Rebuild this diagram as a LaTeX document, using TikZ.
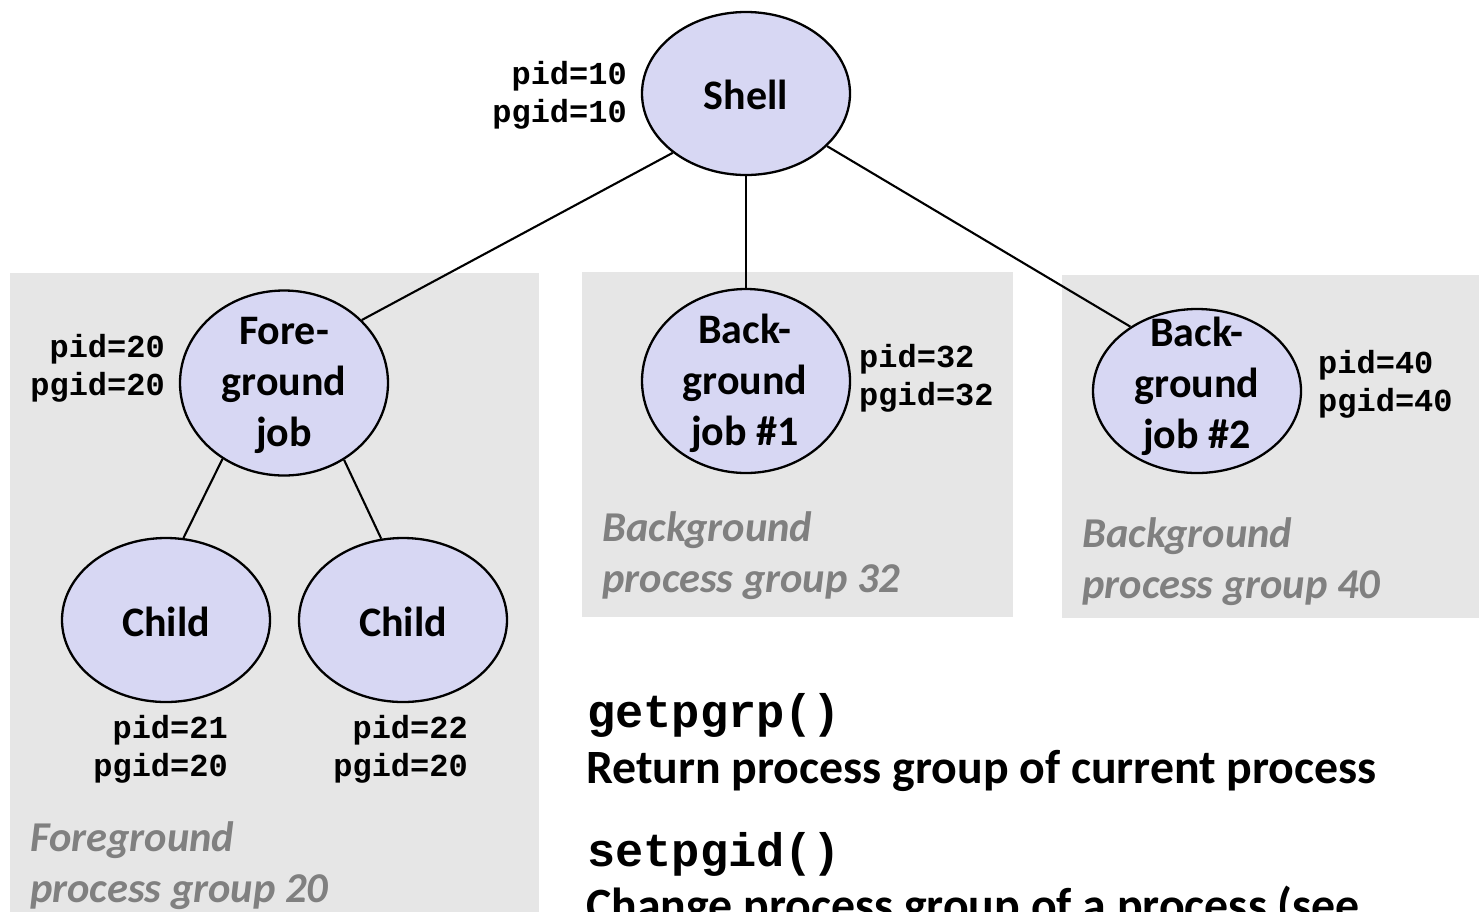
\documentclass[tikz,border=0pt]{standalone}
\usepackage{fontspec}
\setmainfont{Carlito}
\newfontfamily\monof{Liberation Mono}
\usetikzlibrary{shapes.geometric}
\definecolor{procfill}{RGB}{215,215,243}
\definecolor{groupbg}{RGB}{230,230,230}
\definecolor{grouptext}{RGB}{128,128,128}
\begin{document}
\begin{tikzpicture}[x=1pt,y=-1pt,
  proc/.style={ellipse, draw=black, line width=2.3pt, fill=procfill, inner sep=0pt, minimum width=208pt},
  ptext/.style={font=\fontsize{42}{51}\selectfont\bfseries, align=center, inner sep=0pt},
  idr/.style={font=\fontsize{32}{38}\selectfont\monof\bfseries, inner sep=0pt, align=right, anchor=east},
  idlft/.style={font=\fontsize{32}{38}\selectfont\monof\bfseries, inner sep=0pt, align=left, anchor=west},
  grp/.style={fill=groupbg, draw=none},
  gtext/.style={font=\fontsize{42.5}{51}\selectfont\bfseries\itshape, text=grouptext, align=left, inner sep=0pt, anchor=west},
  edge/.style={draw=black, line width=2.1pt},
  api/.style={font=\fontsize{47}{56}\selectfont\monof\bfseries, inner sep=0pt, anchor=base west},
  desc/.style={font=\fontsize{47.8}{56}\selectfont\bfseries, inner sep=0pt, anchor=base west}]
\useasboundingbox (0,0) rectangle (1479,911);
\fill[white] (0,0) rectangle (1479,911);

% group backgrounds
\fill[grp] (10,273) rectangle (539,940);
\fill[grp] (582,272) rectangle (1013,617);
\fill[grp] (1062,275) rectangle (1479,618);

% process ellipses
\node[proc, minimum height=163pt] (shell) at (746,93.5) {};
\node[proc, minimum height=185pt] (fg) at (284,383) {};
\node[proc, minimum height=184pt] (bg1) at (746,381) {};
\node[proc, minimum height=164pt] (bg2) at (1197,391) {};
\node[proc, minimum height=164pt] (c1) at (166,620) {};
\node[proc, minimum height=164pt] (c2) at (403,620) {};

% ellipse texts
\node[ptext] (shellt) at (746,95) {Shell};
\node[ptext] (fgt) at (284,385) {Fore-\\ground\\job};
\node[ptext] (bg1t) at (745,383) {Back-\\ground\\job \#1};
\node[ptext] (bg2t) at (1197,386) {Back-\\ground\\job \#2};
\node[ptext] (c1t) at (166,622) {Child};
\node[ptext] (c2t) at (403,622) {Child};

% connectors
\draw[edge] (shell.219) -- (fg.39);
\draw[edge] (shell.south) -- (bg1.north);
\draw[edge] (shell.327) -- (bg2.136);
\draw[edge] (fg.231) -- (c1.78);
\draw[edge] (fg.308) -- (c2.105);

% id labels
\node[idr] (shellid) at (627,95) {pid=10\\pgid=10};
\node[idr] (fgid) at (165,368) {pid=20\\pgid=20};
\node[idlft] (bg1id) at (859,378) {pid=32\\pgid=32};
\node[idlft] (bg2id) at (1318,384) {pid=40\\pgid=40};
\node[idr] (c1id) at (228,749) {pid=21\\pgid=20};
\node[idr] (c2id) at (468,749) {pid=22\\pgid=20};

% group captions
\node[gtext] (fgcap) at (30,866) {Foreground\\process group 20};
\node[gtext] (bg1cap) at (602,556) {Background\\process group 32};
\node[gtext] (bg2cap) at (1082,562) {Background\\process group 40};

% API text
\node[api] (get) at (587,727) {getpgrp()};
\node[desc] (getd) at (586,783) {Return process group of current process};
\node[api] (set) at (587,866) {setpgid()};
\node[desc] (setd) at (586,921) {Change process group of a process (see};
\end{tikzpicture}
\end{document}
